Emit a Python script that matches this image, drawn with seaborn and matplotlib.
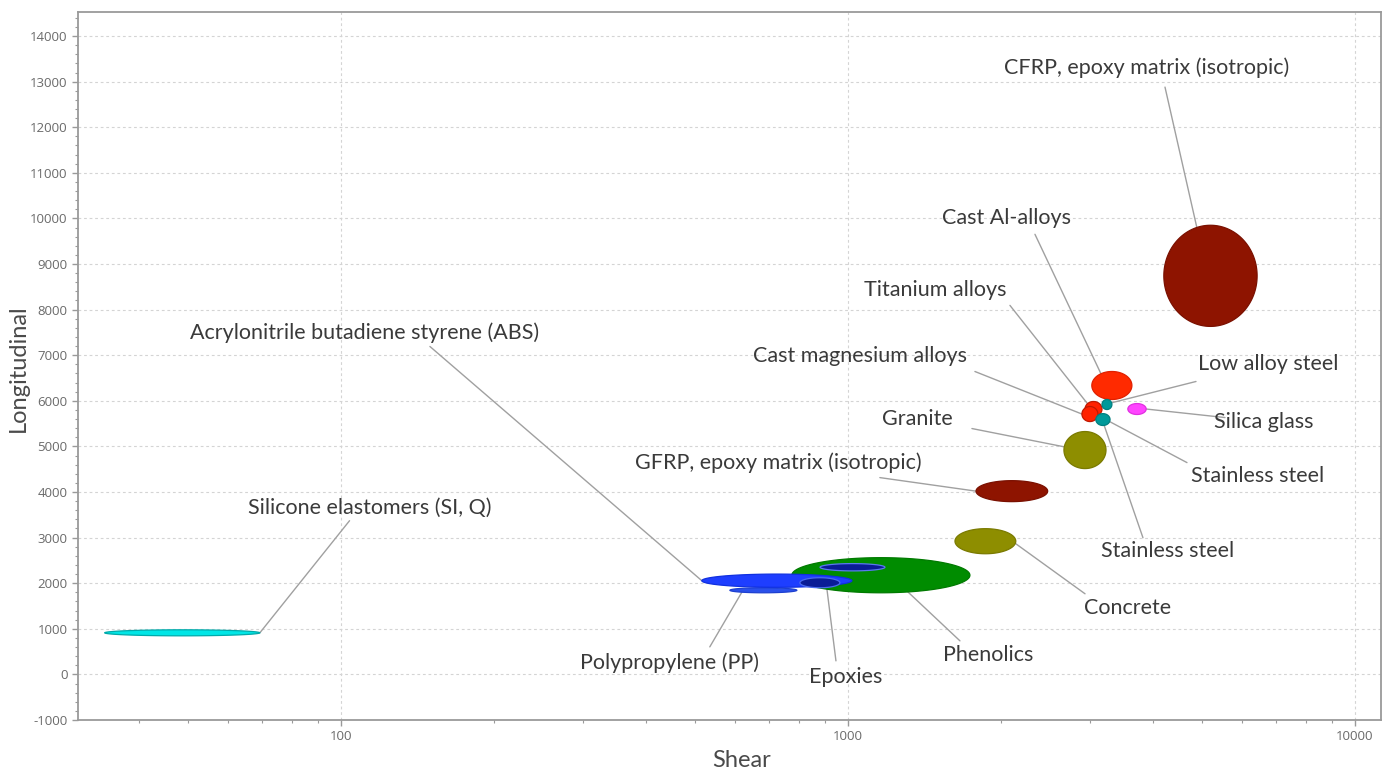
import numpy as np
import pandas as pd
import seaborn as sns
import matplotlib
matplotlib.use("Agg")
import matplotlib.pyplot as plt
from matplotlib.ticker import MultipleLocator, LogLocator, FixedLocator, NullFormatter

# ---------------- data ----------------
materials = ["Silicone elastomers (SI, Q)", "Phenolics", "Polypropylene (PP)",
             "Acrylonitrile butadiene styrene (ABS)", "Epoxies", "Phenolics (resin)",
             "Concrete", "GFRP, epoxy matrix (isotropic)", "Granite", "Cast Al-alloys",
             "Titanium alloys", "Cast magnesium alloys", "Low alloy steel",
             "Stainless steel", "Silica glass", "CFRP, epoxy matrix (isotropic)"]
shear_min = [34.2, 775, 585, 515, 804, 881, 1626, 1789, 2667, 3027, 2935, 2894, 3170, 3083, 3565, 4198]
shear_max = [69.2, 1740, 793, 1018, 964, 1183, 2143, 2477, 3228, 3631, 3170, 3112, 3316, 3288, 3874, 6412]
long_min = [846, 1790, 1790, 1910, 1900, 2270, 2646, 3789, 4514, 6029, 5655, 5545, 5809, 5459, 5700, 7632]
long_max = [978, 2560, 1900, 2200, 2120, 2430, 3196, 4249, 5326, 6643, 5985, 5875, 6029, 5719, 5940, 9850]

fill_colors = ["#00E6E6", "#008C00", "#2A50EA", "#1E3EFF", "#0A1C96", "#0A1C96",
               "#8E8E00", "#8E1400", "#8E8E00", "#FF2A00", "#FF2200", "#FF2200",
               "#00999A", "#00999A", "#FF44FF", "#8E1400"]
edge_colors = ["#00AAAA", "#007A00", "#1E40D0", "#1030E0", "#4A6AF0", "#5A78F0",
               "#7A7A00", "#7A1000", "#7A7A00", "#E02000", "#C01800", "#C01800",
               "#008080", "#008080", "#E030E0", "#7A1000"]

# labels: text, text position, leader start, target ellipse index, angle on ellipse (deg)
label_text = ["CFRP, epoxy matrix (isotropic)", "Cast Al-alloys", "Titanium alloys",
              "Cast magnesium alloys", "Low alloy steel", "Silica glass", "Stainless steel",
              "Stainless steel", "Granite", "GFRP, epoxy matrix (isotropic)", "Concrete",
              "Phenolics", "Epoxies", "Polypropylene (PP)",
              "Acrylonitrile butadiene styrene (ABS)", "Silicone elastomers (SI, Q)"]
label_x = [3888, 2059, 1484, 1056, 6735, 6614, 6437, 4278, 1368, 728, 3566, 1888, 991, 445.6, 111.5, 114]
label_y = [13297, 10003, 8422, 6973, 6797, 5545, 4360, 2713, 5611, 4645, 1461, 429, -54, 253, 7500, 3657]
lead_x = [4220, 2338, 2087, 1780, 4858, 5541, 4663, 3818, 1756, 1156, 2935, 1663, 947, 534, 149.8, 104]
lead_y = [12880, 9652, 8093, 6643, 6424, 5633, 4645, 2998, 5392, 4316, 1768, 736, 297, 604, 7192, 3371]
target_idx = [15, 9, 10, 11, 12, 14, 13, 13, 8, 7, 6, 5, 4, 2, 3, 0]
target_ang = [107, 123, 135, 180, 20, 0, -20, -80, 170, 180, -10, -20, -70, -130, 180, 0]

x_ticks = [100, 1000, 10000]
x_tick_labels = ["100", "1000", "10000"]

df = pd.DataFrame({"material": materials, "smin": shear_min, "smax": shear_max,
                   "lmin": long_min, "lmax": long_max})

# ---------------- style ----------------
sns.set_theme(style="white")
plt.rcParams["font.family"] = ["Lato", "DejaVu Sans"]
plt.rcParams["axes.unicode_minus"] = False

fig = plt.figure(figsize=(13.95, 7.71), dpi=100)
ax = fig.add_axes([78 / 1395, 1 - 720 / 771, (1381 - 78) / 1395, (720 - 12) / 771])
ax.set_xscale("log")
ax.set_xlim(30.3, 11255)
ax.set_ylim(-1000, 14527)

t = np.linspace(0, 2 * np.pi, 240)


def ellipse_point(i, ang_deg):
    lc = (np.log10(df.smin[i]) + np.log10(df.smax[i])) / 2
    la = (np.log10(df.smax[i]) - np.log10(df.smin[i])) / 2
    yc = (df.lmin[i] + df.lmax[i]) / 2
    yb = (df.lmax[i] - df.lmin[i]) / 2
    a = np.deg2rad(ang_deg)
    return 10 ** (lc + la * np.cos(a)), yc + yb * np.sin(a)


for i in range(len(df)):
    xs, ys = ellipse_point(i, np.rad2deg(t))
    ax.fill(xs, ys, facecolor=fill_colors[i], edgecolor=edge_colors[i], lw=0.9, zorder=3 + i * 0.01)

# leaders and labels
for k in range(len(label_text)):
    tx, ty = ellipse_point(target_idx[k], target_ang[k])
    ax.plot([lead_x[k], tx], [lead_y[k], ty], color="#A0A0A0", lw=1.0, zorder=2.5)
    ax.text(label_x[k], label_y[k], label_text[k], ha="center", va="center",
            fontsize=15.5, color="#3A3A3A", zorder=5)

# axes styling
ax.grid(False)
ax.yaxis.set_major_locator(MultipleLocator(1000))
ax.yaxis.set_minor_locator(MultipleLocator(200))
ax.xaxis.set_major_locator(FixedLocator(x_ticks))
ax.xaxis.set_minor_locator(LogLocator(base=10, subs=np.arange(2, 10)))
ax.xaxis.set_minor_formatter(NullFormatter())
ax.set_xticklabels(x_tick_labels)
for yv in range(0, 14001, 1000):
    ax.axhline(yv, color="#D4D4D4", lw=0.8, ls=(0, (2.5, 2.5)), zorder=1)
for xv in x_ticks:
    ax.axvline(xv, color="#D4D4D4", lw=0.8, ls=(0, (2.5, 2.5)), zorder=1)

for s in ax.spines.values():
    s.set_color("#9A9A9A")
    s.set_linewidth(1.3)
ax.tick_params(which="major", direction="out", length=4, width=1, color="#9A9A9A",
               labelsize=9.5, labelcolor="#6A6A6A", left=True, bottom=True)
ax.tick_params(which="minor", direction="out", length=2, width=0.8, color="#9A9A9A",
               left=True, bottom=True)
for lab in ax.get_xticklabels() + ax.get_yticklabels():
    lab.set_family(["Open Sans", "DejaVu Sans"])

ax.set_xlabel("Shear", fontsize=17, color="#4A4A4A")
ax.set_ylabel("Longitudinal", fontsize=17, color="#4A4A4A")
ax.xaxis.set_label_coords(0.509, -0.0565)
ax.yaxis.set_label_coords(-0.046, 0.497)
ax.xaxis.label.set_va("center")
ax.yaxis.label.set_va("center")

fig.savefig("out.png", dpi=100)
